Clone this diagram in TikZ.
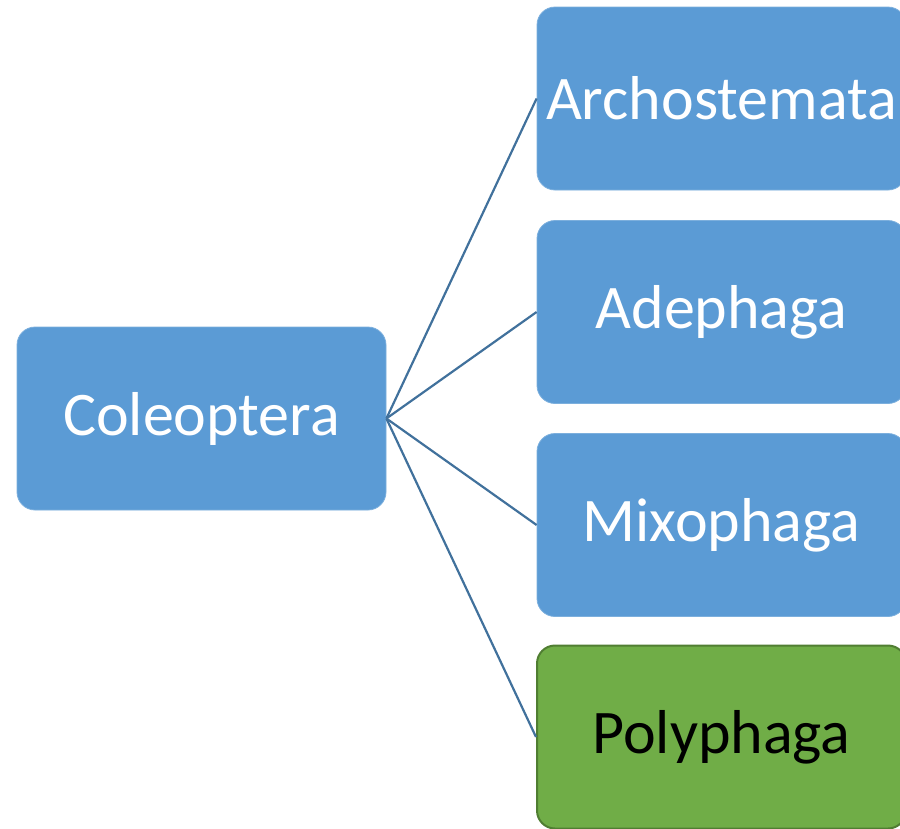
\documentclass[tikz,border=0pt]{standalone}
\usepackage{fontspec}
\setmainfont{Carlito}
\definecolor{boxblue}{HTML}{5B9BD5}
\definecolor{boxgreen}{HTML}{70AD47}
\definecolor{greenedge}{HTML}{507E32}
\definecolor{linkblue}{HTML}{41719C}
\begin{document}
\begin{tikzpicture}[x=1pt,y=-1pt,
  taxon/.style={rounded corners=18pt, minimum width=369pt, minimum height=183pt, text width=369pt, align=center, inner sep=0pt, font=\fontsize{62}{66}\selectfont},
  bluebox/.style={taxon, fill=boxblue, draw=boxblue!80!white, line width=0.8pt, text=white},
  greenbox/.style={taxon, fill=boxgreen, draw=greenedge, line width=2pt, text=black},
  link/.style={draw=linkblue, line width=2.2pt}]
\useasboundingbox (0,0) rectangle (900,828);
\clip (0,0) rectangle (900,828);
\node[bluebox] (col) at (201.5,418.5) {Coleoptera};
\node[bluebox] (arc) at (721.5,98.5) {Archostemata};
\node[bluebox] (ade) at (721.5,312) {Adephaga};
\node[bluebox] (mix) at (721.5,525) {Mixophaga};
\node[greenbox] (pol) at (721.5,737) {Polyphaga};
\draw[link] (col.east) -- (arc.west);
\draw[link] (col.east) -- (ade.west);
\draw[link] (col.east) -- (mix.west);
\draw[link] (col.east) -- (pol.west);
\end{tikzpicture}
\end{document}
